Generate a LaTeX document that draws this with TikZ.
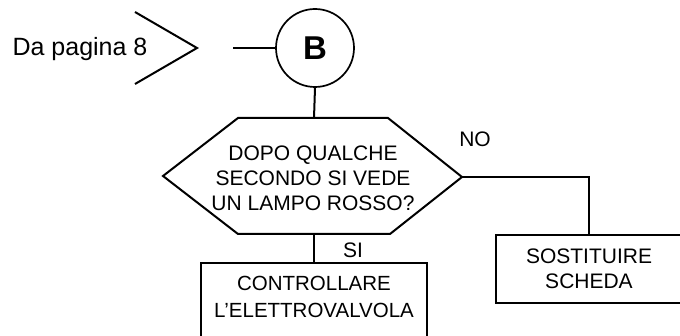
\documentclass[tikz,border=0pt]{standalone}
\usepackage{fontspec}
\setmainfont{Liberation Sans}
\begin{document}
\begin{tikzpicture}[x=1pt,y=-1pt,
  ln/.style={line width=2pt},
  txt/.style={font=\fontsize{21}{25}\selectfont, align=center, inner sep=0pt},
  boxnode/.style={draw, line width=2pt, inner sep=0pt}]
\useasboundingbox (0,0) rectangle (680,336);
\clip (0,0) rectangle (680,336);
% incoming page connector
\coordinate (ct) at (135,12);
\coordinate (ctip) at (197,48);
\coordinate (cb) at (135,84);
\draw[ln, line join=miter] (ct) -- (ctip) -- (cb);
\node[font=\fontsize{25}{28}\selectfont, inner sep=0pt] (from) at (80,49) {Da pagina 8};
\coordinate (inl) at (233,48);
\node[circle, draw, line width=1.7pt, minimum size=78pt, inner sep=0pt,
      font=\fontsize{33}{34}\selectfont\bfseries] (B) at (315,48) {B};
\draw[ln] (inl) -- (B.west);
% decision hexagon
\coordinate (qtop) at (314,118);
\coordinate (qbot) at (314,234);
\coordinate (qright) at (462,177);
\draw[ln, line join=miter] (163,176) -- (238,118) -- (388,118) -- (qright) -- (390,234) -- (238,234) -- cycle;
\node[txt] (q) at (313,178) {DOPO QUALCHE\\SECONDO SI VEDE\\UN LAMPO ROSSO?};
\draw[ln] (B.south) -- (qtop);
% SI branch
\node[boxnode, minimum width=226pt, minimum height=84pt] (c) at (314,305) {};
\node[txt, font=\fontsize{20.5}{27}\selectfont] (ct2) at (314,297) {CONTROLLARE\\L’ELETTROVALVOLA};
\draw[ln] (qbot) -- (c.north);
\node[txt] (si) at (353,250) {SI};
% NO branch
\node[boxnode, minimum width=186pt, minimum height=68pt, txt] (s) at (589,269) {SOSTITUIRE\\SCHEDA};
\draw[ln] (qright) -| (s.north);
\node[txt] (no) at (475,139) {NO};
\end{tikzpicture}
\end{document}
